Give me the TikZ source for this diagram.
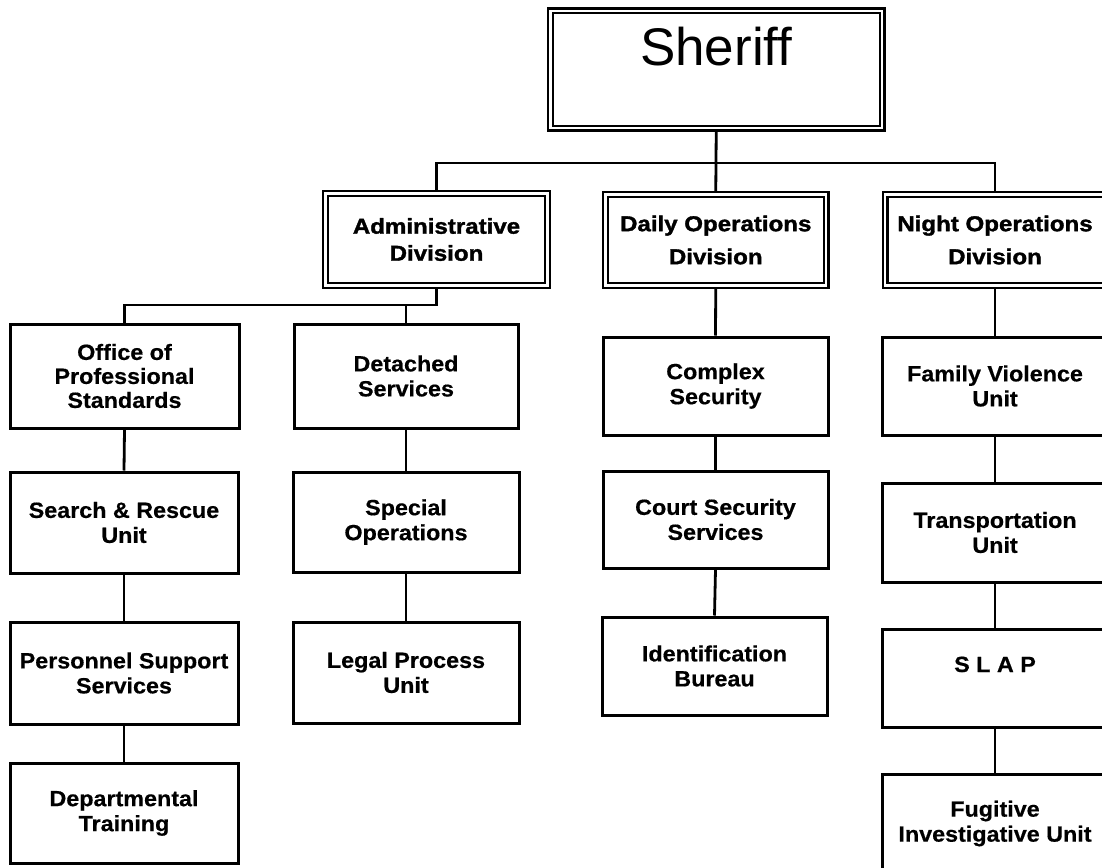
\documentclass[tikz,border=0pt]{standalone}
\usepackage{fontspec}
\setmainfont{Liberation Sans}
\newfontfamily\divfont{Liberation Sans}[FakeStretch=1.12, FakeBold=1.6]
\newfontfamily\boxfont{Liberation Sans}[FakeStretch=1.06, FakeBold=0.5]
\usetikzlibrary{backgrounds}
\tikzset{
  unitbox/.style={draw, line width=3pt, fill=white, inner sep=0pt, align=center,
    font=\boxfont\bfseries\fontsize{22}{25}\selectfont},
  divbox/.style={draw, double, line width=2.4pt, double distance=2.2pt, fill=white,
    inner sep=0pt, align=center, font=\divfont\bfseries\fontsize{21.5}{27}\selectfont},
  topbox/.style={draw, double, line width=2.4pt, double distance=2.2pt, fill=white,
    inner sep=0pt, font=\fontsize{53}{60}\selectfont},
  link/.style={line width=2.8pt}
}
\begin{document}
\begin{tikzpicture}[x=1pt, y=-1pt]
\useasboundingbox (0,0) rectangle (1102,867);
\clip (0,0) rectangle (1102,867);

% top
\node[topbox, minimum width=331.5pt, minimum height=117pt, text height=38pt, text depth=46pt] (sheriff) at (716.25,69.5) {Sheriff};

% divisions
\node[divbox, minimum width=222pt, minimum height=92pt] (admin) at (436.5,239.5) {Administrative\\Division};
\node[divbox, minimum width=220.5pt, minimum height=91pt] (daily) at (715.75,240) {Daily Operations\\[6pt]Division};
\node[divbox, minimum width=220pt, minimum height=91pt] (night) at (995,240) {Night Operations\\[6pt]Division};

% administrative units
\node[unitbox, minimum width=229pt, minimum height=104pt] (office) at (124.5,376) {Office of\\[-1pt]Professional\\[-1pt]Standards};
\node[unitbox, minimum width=228pt, minimum height=101pt] (sar) at (124,522.5) {Search \& Rescue\\Unit};
\node[unitbox, minimum width=228pt, minimum height=102pt] (personnel) at (124,673) {Personnel Support\\Services};
\node[unitbox, minimum width=228pt, minimum height=100pt] (training) at (124,813) {Departmental\\Training};
\node[unitbox, minimum width=224pt, minimum height=104pt] (detached) at (406,376) {Detached\\Services};
\node[unitbox, minimum width=226pt, minimum height=100pt] (special) at (406,522) {Special\\Operations};
\node[unitbox, minimum width=226pt, minimum height=101pt] (legal) at (406,672.5) {Legal Process\\Unit};

% daily units
\node[unitbox, minimum width=225pt, minimum height=98pt] (complex) at (715.5,386) {Complex\\Security};
\node[unitbox, minimum width=225pt, minimum height=97pt] (court) at (715.5,519.5) {Court Security\\Services};
\node[unitbox, minimum width=225pt, minimum height=98pt] (ident) at (714.5,666) {Identification\\Bureau};

% night units
\node[unitbox, minimum width=226pt, minimum height=98pt] (family) at (995,386) {Family Violence\\Unit};
\node[unitbox, minimum width=226pt, minimum height=99pt] (transport) at (995,532.5) {Transportation\\Unit};
\node[draw, line width=3pt, fill=white, inner sep=0pt, font=\boxfont\bfseries\fontsize{22}{25}\selectfont,
  minimum width=226pt, minimum height=98pt, text height=16pt, text depth=28pt] (slap) at (995,678) {S L A P};
\node[unitbox, minimum width=226pt, minimum height=99pt] (fugitive) at (995,823.5) {Fugitive\\Investigative Unit};

\coordinate (sbus) at (716,163);
\coordinate (abus) at (436.5,305);

\begin{scope}[on background layer]
\draw[link] (sheriff.south) -- (daily.north);
\draw[link] (admin.north) |- (sbus) -| (night.north);
\draw[link] (admin.south) -- (abus) -| (office.north);
\draw[link] (abus -| detached.north) -- (detached.north);
\draw[link] (office.south) -- (sar.north);
\draw[link] (sar.south) -- (personnel.north);
\draw[link] (personnel.south) -- (training.north);
\draw[link] (detached.south) -- (special.north);
\draw[link] (special.south) -- (legal.north);
\draw[link] (daily.south) -- (complex.north);
\draw[link] (complex.south) -- (court.north);
\draw[link] (court.south) -- (ident.north);
\draw[link] (night.south) -- (family.north);
\draw[link] (family.south) -- (transport.north);
\draw[link] (transport.south) -- (slap.north);
\draw[link] (slap.south) -- (fugitive.north);
\end{scope}
\end{tikzpicture}
\end{document}
